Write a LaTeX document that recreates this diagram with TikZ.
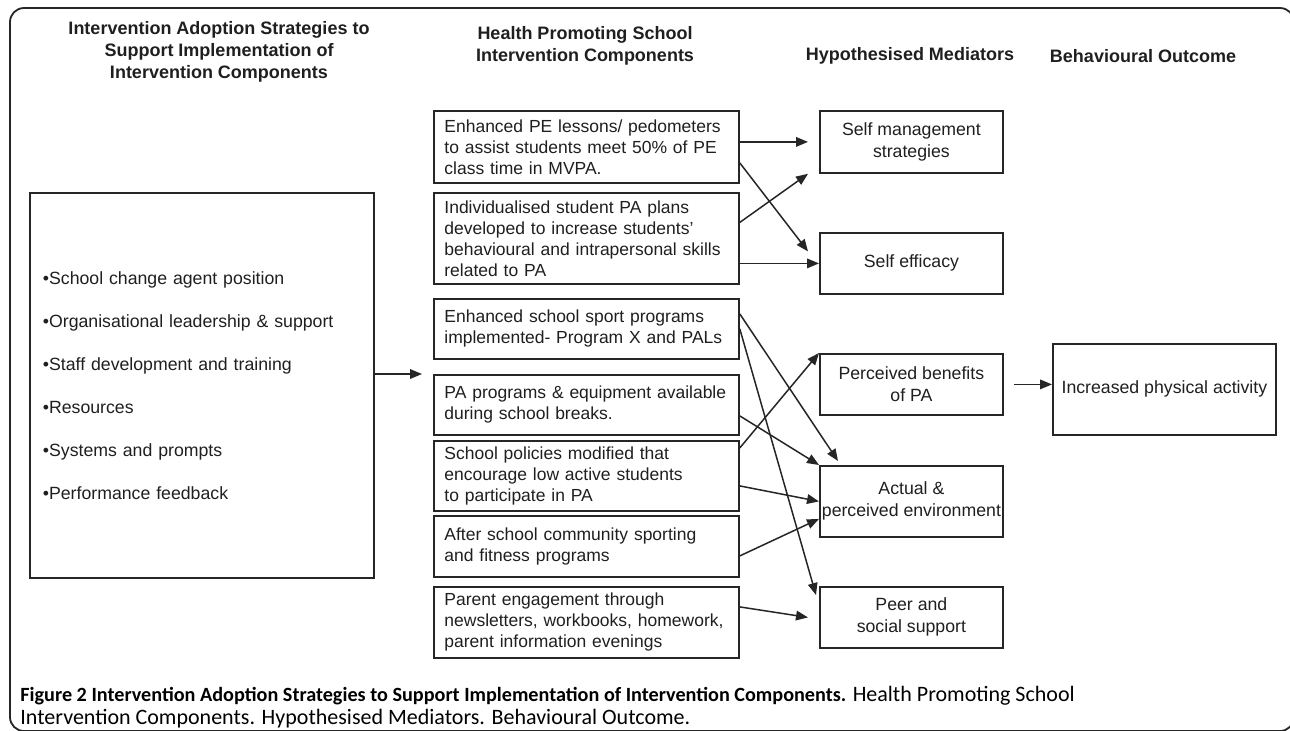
\documentclass[tikz,border=0pt]{standalone}
\usepackage{fontspec}
\setmainfont{Liberation Sans}
\newfontfamily\capfont{Carlito}
\usetikzlibrary{arrows.meta}

\begin{document}
\begin{tikzpicture}[x=0.5pt,y=-0.5pt,
    every node/.style={inner sep=0pt,text=black!88},
    head/.style={align=center,font=\fontsize{9}{11}\selectfont\bfseries},
    box/.style={draw=black!85,line width=0.9pt,anchor=north west},
    comp/.style={box,text width=142pt,inner xsep=5.25pt,align=left,font=\fontsize{8.75}{10.5}\selectfont},
    medi/.style={box,minimum width=91.5pt,inner xsep=1pt,align=center,font=\fontsize{8.85}{11}\selectfont},
    link/.style={draw=black!85,line width=0.75pt,-{Triangle[length=6pt,width=4.8pt]}},
    gap/.style={shorten >=5.5pt}
  ]
  \useasboundingbox (0,0) rectangle (1290,730);
  % Frame
  \draw[black!85,line width=0.9pt,rounded corners=7pt] (10,8) rectangle (1294,731);
  %
  % Column heads
  \node[head] (h1) at (219,52) {Intervention Adoption Strategies to\\Support Implementation of\\Intervention Components};
  \node[head] (h2) at (585,45.5) {Health Promoting School\\Intervention Components};
  \node[head] (h3) at (910,56) {Hypothesised Mediators};
  \node[head] (h4) at (1143,56) {Behavioural Outcome};
  %
  % Strategies
  \node[box,minimum width=172pt,minimum height=192.5pt,text width=159pt,inner xsep=6.5pt,align=left,
    font=\fontsize{8.85}{21.5}\selectfont] (lb) at (29,192)
    {•School change agent position\\•Organisational leadership \& support\\•Staff development and training\\
     •Resources\\•Systems and prompts\\•Performance feedback};
  %
  % Components
  \node[comp,minimum height=36pt] (c1) at (433,110) {Enhanced PE lessons/ pedometers\\to assist students meet 50\% of PE\\class time in MVPA.};
  \node[comp,minimum height=45.5pt] (c2) at (433,192) {Individualised student PA plans\\developed to increase students’\\behavioural and intrapersonal skills\\related to PA};
  \node[comp,minimum height=30pt] (c3) at (433,298) {Enhanced school sport programs\\implemented- Program X and PALs};
  \node[comp,minimum height=30pt] (c4) at (433,374) {PA programs \& equipment available\\during school breaks.};
  \node[comp,minimum height=35pt] (c5) at (433,440) {School policies modified that\\encourage low active students\\to participate in PA};
  \node[comp,minimum height=30.5pt] (c6) at (433,515) {After school community sporting\\and fitness programs};
  \node[comp,minimum height=35.5pt] (c7) at (433,586) {Parent engagement through\\newsletters, workbooks, homework,\\parent information evenings};
  %
  % Mediators
  \node[medi,minimum height=31pt] (sm) at (819,110) {Self management\\strategies};
  \node[medi,minimum height=30.5pt] (se) at (819,232) {Self efficacy};
  \node[medi,minimum height=30.5pt] (pb) at (819,353) {Perceived benefits\\of PA};
  \node[medi,minimum height=35.5pt] (ae) at (819,465) {Actual \&\\perceived environment};
  \node[medi,minimum height=30.5pt] (pe) at (819,586) {Peer and\\social support};
  %
  % Outcome
  \node[box,minimum width=111.5pt,minimum height=45.5pt,font=\fontsize{8.85}{11}\selectfont] (pa) at (1052,343) {Increased physical activity};
  %
  % Links
  \draw[link,gap] (lb.east |- c4.north) -- (c4.north west);
  \draw[link,gap] (c1.east |- sm.west) -- (sm.west);
  \draw[link] ([yshift=-8pt]c1.east) -- ([xshift=-5.5pt,yshift=6pt]se.west);
  \draw[link] ([yshift=8pt]c2.east) -- ([xshift=-5.5pt]sm.south west);
  \draw[link] (c2.east |- se.west) -- (se.west);
  \draw[link] ([yshift=7.5pt]c3.east) -- ([xshift=9.5pt,yshift=2pt]ae.north west);
  \draw[link] (c3.east) -- ([xshift=-1.5pt,yshift=-4.5pt]pe.north west);
  \draw[link] ([yshift=-5.5pt]c4.east) -- (ae.north west);
  \draw[link] ([yshift=14pt]c5.east) -- (pb.north west);
  \draw[link] ([yshift=-5pt]c5.east) -- (ae.west);
  \draw[link] ([yshift=-4.75pt]c6.east) -- ([yshift=-8.75pt]ae.west);
  \draw[link] ([yshift=7.75pt]c7.east) -- ([xshift=-5.5pt]pe.west);
  \draw[link,shorten <=5pt] (pb.east) -- (pa.west |- pb.east);
  %
  % Caption
  \node[anchor=north west,align=left,text=black,font=\capfont\fontsize{11}{11.5}\selectfont] (cap) at (20,686)
    {{\fontsize{10.1}{11.5}\selectfont\bfseries Figure 2 Intervention Adoption Strategies to Support Implementation of Intervention Components.} Health Promoting School\\
     Intervention Components. Hypothesised Mediators. Behavioural Outcome.};
\end{tikzpicture}
\end{document}
